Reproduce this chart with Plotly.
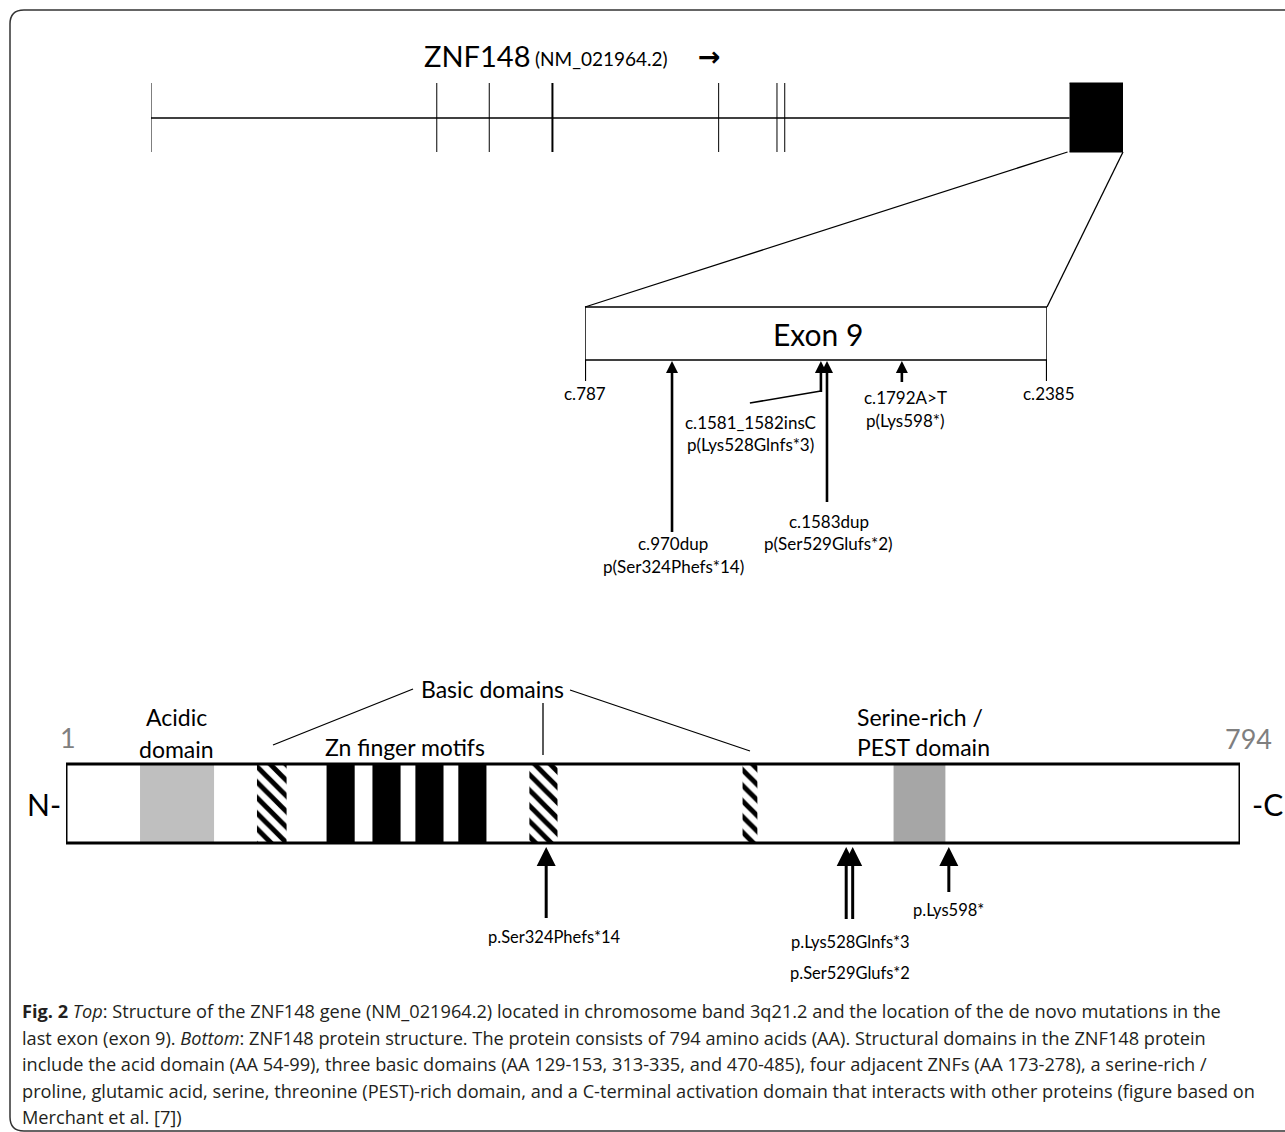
import plotly.graph_objects as go

W, H = 1285, 1132

# ---------------- data ----------------
# gene: schematic positions (% of drawn gene length) of exons 1-8 marks, and the last exon block
gene_exon_marks = [0, 29.4, 34.8, 41.3, 58.4, 64.4, 65.2]
last_exon_span = [94.5, 100]

# exon 9 (cDNA coordinates)
exon_start_c = 787
exon_end_c = 2385
exon_mut_pos = [1088, 1603, 1624, 1883]          # drawn arrow positions along exon 9 (c.)
exon_mut_c_labels = ["c.970dup", "c.1581_1582insC", "c.1583dup", "c.1792A>T"]
exon_mut_p_labels = ["p(Ser324Phefs*14)", "p(Lys528Glnfs*3)", "p(Ser529Glufs*2)", "p(Lys598*)"]

# protein (amino-acid coordinates)
protein_len = 794
acidic_domain = [51, 101]
basic_domains = [[130, 150], [314, 333], [458, 468]]
znf_motifs = [[177, 196], [208, 227], [237, 256], [266, 285]]
pest_domain = [560, 595]
prot_mut_aa = [324, 528, 529, 598]
prot_mut_labels = ["p.Ser324Phefs*14", "p.Lys528Glnfs*3", "p.Ser529Glufs*2", "p.Lys598*"]

caption_lines = [
    "<b>Fig. 2</b> <i>Top</i>: Structure of the ZNF148 gene (NM_021964.2) located in chromosome band 3q21.2 and the location of the de novo mutations in the",
    "last exon (exon 9). <i>Bottom</i>: ZNF148 protein structure. The protein consists of 794 amino acids (AA). Structural domains in the ZNF148 protein",
    "include the acid domain (AA 54-99), three basic domains (AA 129-153, 313-335, and 470-485), four adjacent ZNFs (AA 173-278), a serine-rich /",
    "proline, glutamic acid, serine, threonine (PEST)-rich domain, and a C-terminal activation domain that interacts with other proteins (figure based on",
    "Merchant et al. [7])",
]

# ---------------- layout geometry (pixels) ----------------
GENE_PX = (151, 1123)
EXON_PX = (585, 1047)
PROT_PX = (66, 1240)
DIAG_FONT = "Lato, 'Open Sans', sans-serif"
CAP_FONT = "'Open Sans', sans-serif"
BLACK = "#000000"


def px(axis_range, axis_px, v):
    return axis_px[0] + (v - axis_range[0]) / (axis_range[1] - axis_range[0]) * (axis_px[1] - axis_px[0])


def units_per_px(axis_range, axis_px):
    return (axis_range[1] - axis_range[0]) / (axis_px[1] - axis_px[0])


gene_range = [0, 100]
exon_range = [exon_start_c, exon_end_c]
prot_range = [1, protein_len]

fig = go.Figure()
shapes = []
ann = []

# ---------------- gene structure ----------------
gy0, gy1, gmid = 83, 152, 118
fig.add_trace(go.Scatter(x=[gene_range[0], last_exon_span[0]], y=[gmid, gmid], mode="lines",
                         line=dict(color=BLACK, width=1.6), xaxis="x4", yaxis="y", hoverinfo="skip"))
for i, g in enumerate(gene_exon_marks):
    fig.add_trace(go.Scatter(x=[g, g], y=[gy0, gy1], mode="lines",
                             line=dict(color=BLACK, width=2 if i == 3 else 1),
                             xaxis="x4", yaxis="y", hoverinfo="skip"))
fig.add_trace(go.Scatter(x=[last_exon_span[0], last_exon_span[1], last_exon_span[1], last_exon_span[0]],
                         y=[gy0, gy0, gy1, gy1], fill="toself", fillcolor=BLACK, mode="lines",
                         line=dict(color=BLACK, width=1), xaxis="x4", yaxis="y", hoverinfo="skip"))

ann.append(dict(text="ZNF148", x=422, y=55, xref="x", yref="y", xanchor="left", yanchor="middle",
                showarrow=False, font=dict(family=DIAG_FONT, size=29, color=BLACK)))
ann.append(dict(text="(NM_021964.2)", x=533, y=58, xref="x", yref="y", xanchor="left", yanchor="middle",
                showarrow=False, font=dict(family=DIAG_FONT, size=19, color=BLACK)))
ann.append(dict(text="<b>→</b>", x=696, y=56, xref="x", yref="y", xanchor="left", yanchor="middle",
                showarrow=False, font=dict(family="DejaVu Sans", size=27, color=BLACK)))

# zoom lines gene box -> exon box
ey0, ey1 = 307, 360
shapes.append(dict(type="line", xref="x", yref="y",
                   x0=px(gene_range, GENE_PX, last_exon_span[0]) - 2, y0=gy1,
                   x1=px(exon_range, EXON_PX, exon_start_c), y1=ey0, line=dict(color=BLACK, width=1.3)))
shapes.append(dict(type="line", xref="x", yref="y",
                   x0=px(gene_range, GENE_PX, last_exon_span[1]), y0=gy1,
                   x1=px(exon_range, EXON_PX, exon_end_c), y1=ey0, line=dict(color=BLACK, width=1.3)))

# ---------------- exon 9 ----------------
shapes.append(dict(type="rect", xref="x3", yref="y", x0=exon_start_c, x1=exon_end_c, y0=ey0, y1=ey1,
                   line=dict(color=BLACK, width=1.5), fillcolor="white", layer="below"))
for c in (exon_start_c, exon_end_c):
    shapes.append(dict(type="line", xref="x3", yref="y", x0=c, x1=c, y0=ey1, y1=381,
                       line=dict(color=BLACK, width=2.2)))
ann.append(dict(text="Exon 9", x=(exon_start_c + exon_end_c) / 2, y=334, xref="x3", yref="y",
                showarrow=False, xshift=2, font=dict(family=DIAG_FONT, size=30, color=BLACK)))
ann.append(dict(text="c.787", x=exon_start_c, y=393, xref="x3", yref="y", showarrow=False,
                font=dict(family=DIAG_FONT, size=17, color=BLACK)))
ann.append(dict(text="c.2385", x=exon_end_c, y=393, xref="x3", yref="y", showarrow=False, xshift=2,
                font=dict(family=DIAG_FONT, size=17, color=BLACK)))

exon_shaft_bottom = [532, 392, 502, 382]
exon_label_y = [(543, 566), (422, 444), (521, 543), (397, 420)]
exon_label_dx = [1, -70, 2, 4]
upx_exon = units_per_px(exon_range, EXON_PX)
sx, sy = [], []
for p, b in zip(exon_mut_pos, exon_shaft_bottom):
    sx += [p, p, None]
    sy += [b, 366, None]
fig.add_trace(go.Scatter(x=sx, y=sy, mode="lines", line=dict(color=BLACK, width=2.6),
                         xaxis="x3", yaxis="y", hoverinfo="skip"))
fig.add_trace(go.Scatter(x=exon_mut_pos, y=[361] * len(exon_mut_pos), mode="markers",
                         marker=dict(symbol="arrow-up", size=12, color=BLACK, line=dict(width=0)),
                         xaxis="x3", yaxis="y", hoverinfo="skip", cliponaxis=False))
for p, cl, pl, (y1, y2), dx in zip(exon_mut_pos, exon_mut_c_labels, exon_mut_p_labels, exon_label_y, exon_label_dx):
    for t, yy in ((cl, y1), (pl, y2)):
        ann.append(dict(text=t, x=p, y=yy, xref="x3", yref="y", xshift=dx, showarrow=False,
                        font=dict(family=DIAG_FONT, size=17, color=BLACK)))
# leader line for c.1581_1582insC
shapes.append(dict(type="line", xref="x3", yref="y", x0=exon_mut_pos[1], y0=391,
                   x1=exon_mut_pos[1] - 71 * upx_exon, y1=403, line=dict(color=BLACK, width=1.6)))

# ---------------- protein ----------------
py0, py1 = 764, 843


def box_trace(a, b, **kw):
    return go.Scatter(x=[a, b, b, a, a], y=[py0, py0, py1, py1, py0], fill="toself", mode="lines",
                      xaxis="x2", yaxis="y", hoverinfo="skip", **kw)


fig.add_trace(box_trace(prot_range[0], prot_range[1], fillcolor="white", line=dict(width=0)))
fig.add_trace(box_trace(*acidic_domain, fillcolor="#BFBFBF", line=dict(width=0)))
fig.add_trace(box_trace(*pest_domain, fillcolor="#A6A6A6", line=dict(width=0)))
for a, b in znf_motifs:
    fig.add_trace(box_trace(a, b, fillcolor=BLACK, line=dict(width=0)))
for a, b in basic_domains:
    fig.add_trace(box_trace(a, b, fillcolor="white", line=dict(width=0),
                            fillpattern=dict(shape="\\", size=11, solidity=0.45,
                                             fgcolor=BLACK, bgcolor="white", fillmode="replace")))
shapes.append(dict(type="rect", xref="x2", yref="y", x0=prot_range[0], x1=prot_range[1], y0=py0, y1=py1,
                   line=dict(color=BLACK, width=3), fillcolor="rgba(0,0,0,0)"))

upx_prot = units_per_px(prot_range, PROT_PX)
prot_nudge_px = [2, 0, 5, -1]
prot_shaft_bottom = [918, 919, 919, 892]
arrow_x = [a + n * upx_prot for a, n in zip(prot_mut_aa, prot_nudge_px)]
sx, sy = [], []
for p, b in zip(arrow_x, prot_shaft_bottom):
    sx += [p, p, None]
    sy += [b, 858, None]
fig.add_trace(go.Scatter(x=sx, y=sy, mode="lines", line=dict(color=BLACK, width=3),
                         xaxis="x2", yaxis="y", hoverinfo="skip"))
fig.add_trace(go.Scatter(x=arrow_x, y=[847] * len(arrow_x), mode="markers",
                         marker=dict(symbol="arrow-up", size=19, color=BLACK, line=dict(width=0)),
                         xaxis="x2", yaxis="y", hoverinfo="skip", cliponaxis=False))
prot_label_pos = [(0, 937, 8), (1, 942, 4), (1, 973, 4), (3, 910, 0)]
for i, (ai, yy, dx) in enumerate(prot_label_pos):
    ann.append(dict(text=prot_mut_labels[i], x=arrow_x[ai], y=yy, xref="x2", yref="y", xshift=dx,
                    showarrow=False, font=dict(family=DIAG_FONT, size=16.5, color=BLACK)))

# domain labels
dfont = dict(family=DIAG_FONT, size=23, color=BLACK)
ann.append(dict(text="Acidic", x=176, y=717, xref="x", yref="y", showarrow=False, font=dfont))
ann.append(dict(text="domain", x=176, y=749, xref="x", yref="y", showarrow=False, font=dfont))
ann.append(dict(text="Zn finger motifs", x=405, y=747, xref="x", yref="y", showarrow=False, font=dfont))
ann.append(dict(text="Basic domains", x=492, y=689, xref="x", yref="y", showarrow=False, font=dfont))
ann.append(dict(text="Serine-rich /", x=855, y=717, xref="x", yref="y", xanchor="left", showarrow=False, font=dfont))
ann.append(dict(text="PEST domain", x=855, y=747, xref="x", yref="y", xanchor="left", showarrow=False, font=dfont))
ann.append(dict(text="1", x=prot_range[0], y=737, xref="x2", yref="y", xshift=2, showarrow=False,
                font=dict(family=DIAG_FONT, size=27, color="#7F7F7F")))
ann.append(dict(text=str(protein_len), x=prot_range[1], y=738, xref="x2", yref="y", xshift=8, showarrow=False,
                font=dict(family=DIAG_FONT, size=27, color="#7F7F7F")))
ann.append(dict(text="N-", x=44, y=804, xref="x", yref="y", showarrow=False,
                font=dict(family=DIAG_FONT, size=30, color=BLACK)))
ann.append(dict(text="-C", x=1267, y=804, xref="x", yref="y", showarrow=False,
                font=dict(family=DIAG_FONT, size=30, color=BLACK)))

# basic-domain leader lines
for x0_, y0_, x1_, y1_ in [(273, 745, 413, 689), (543, 703, 543, 755), (570, 690, 750, 751)]:
    shapes.append(dict(type="line", xref="x", yref="y", x0=x0_, y0=y0_, x1=x1_, y1=y1_,
                       line=dict(color=BLACK, width=1.3)))

# ---------------- frame and caption ----------------
shapes.append(dict(type="path", xref="x", yref="y",
                   path="M 1300,10 L 24,10 Q 10,10 10,24 L 10,1117 Q 10,1131 24,1131 L 1300,1131",
                   line=dict(color="#333333", width=1.5)))
for i, line in enumerate(caption_lines):
    ann.append(dict(text=line, x=20, y=1011 + 26.5 * i, xref="x", yref="y", xanchor="left",
                    yanchor="middle", showarrow=False, font=dict(family=CAP_FONT, size=18.2, color="#231F20")))

hidden = dict(visible=False, showgrid=False, zeroline=False, fixedrange=True)
fig.update_layout(
    width=W, height=H, margin=dict(l=0, r=0, t=0, b=0),
    paper_bgcolor="white", plot_bgcolor="rgba(0,0,0,0)", showlegend=False,
    xaxis=dict(range=[0, W], domain=[0, 1], anchor="y", **hidden),
    yaxis=dict(range=[H, 0], domain=[0, 1], anchor="x", **hidden),
    xaxis2=dict(range=prot_range, domain=[PROT_PX[0] / W, PROT_PX[1] / W], anchor="y", **hidden),
    xaxis3=dict(range=exon_range, domain=[EXON_PX[0] / W, EXON_PX[1] / W], anchor="y", **hidden),
    xaxis4=dict(range=gene_range, domain=[GENE_PX[0] / W, GENE_PX[1] / W], anchor="y", **hidden),
    shapes=shapes, annotations=ann,
)

fig.write_html("out.html", config={"displayModeBar": False},
               post_script="document.body.style.margin='0';document.body.style.overflow='hidden';")
